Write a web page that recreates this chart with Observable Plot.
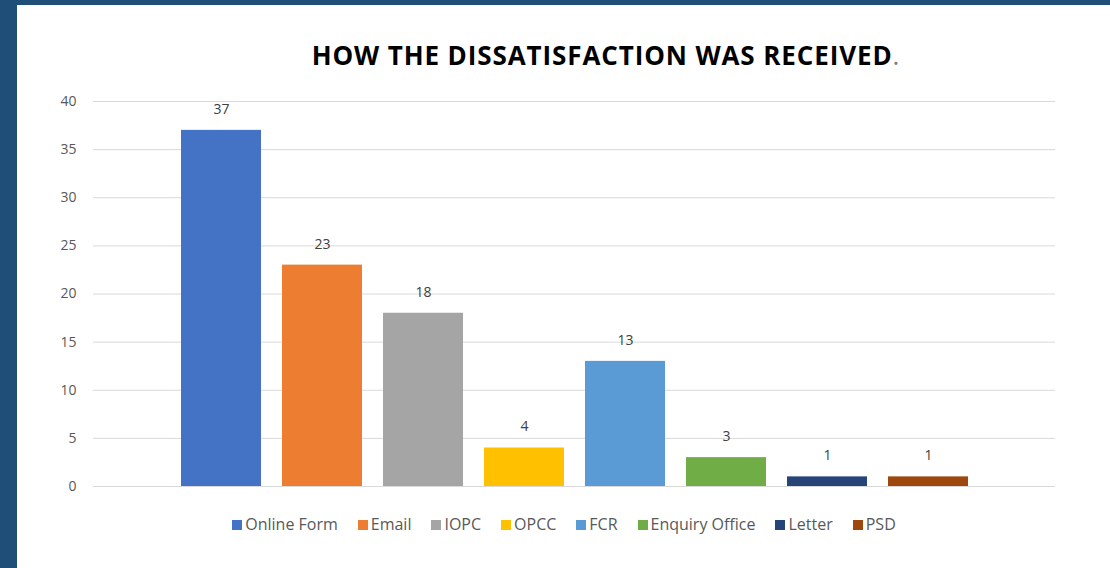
<!DOCTYPE html>
<html>
<head>
<meta charset="utf-8">
<script src="https://cdn.jsdelivr.net/npm/d3@7"></script>
<script src="https://cdn.jsdelivr.net/npm/@observablehq/plot@0.6"></script>
<style>
  html, body { margin: 0; padding: 0; }
  #page { position: relative; width: 1110px; height: 568px; background: #1F4E79; overflow: hidden; font-family: "Open Sans", sans-serif; }
  #panel { position: absolute; left: 17px; top: 5px; width: 1093px; height: 563px; background: #ffffff; }
  #chart { position: absolute; left: 0; top: 0; }
  #title { position: absolute; left: 0; width: 1110px; top: 37px; text-align: center; padding-left: 102px; box-sizing: border-box; font-weight: 700; font-size: 26px; color: #000; letter-spacing: 0.9px; }
  #title .dot { color: #7f7f7f; font-weight: 400; }
  #legend { position: absolute; left: 0; width: 1110px; top: 513px; text-align: center; padding-left: 18px; box-sizing: border-box; font-size: 16px; color: #595959; white-space: nowrap; }
  .item { display: inline-block; margin: 0 10px; }
  .sw { display: inline-block; width: 10px; height: 10px; margin-right: 3px; vertical-align: 0px; }
</style>
</head>
<body>
<div id="page">
  <div id="panel"></div>
  <div id="chart"></div>
  <div id="title">HOW THE DISSATISFACTION WAS RECEIVED<span class="dot">.</span></div>
  <div id="legend"></div>
</div>
<script>
const categories = ["Online Form", "Email", "IOPC", "OPCC", "FCR", "Enquiry Office", "Letter", "PSD"];
const values = [37, 23, 18, 4, 13, 3, 1, 1];
const colors = ["#4472C4", "#ED7D31", "#A5A5A5", "#FFC000", "#5B9BD5", "#70AD47", "#264478", "#9E480E"];
const yTicks = [0, 5, 10, 15, 20, 25, 30, 35, 40];

const data = categories.map((c, i) => ({category: c, value: values[i]}));

const chart = Plot.plot({
  width: 1110,
  height: 568,
  marginLeft: 93,
  marginRight: 55,
  marginTop: 101,
  marginBottom: 82,
  style: {background: "transparent", fontFamily: "'Open Sans', sans-serif", fontSize: "14px", color: "#595959"},
  x: {domain: categories, range: [169, 979], paddingInner: 0.21, paddingOuter: 0.105, axis: null},
  y: {domain: [0, 40], ticks: yTicks, tickSize: 0, tickPadding: 17, label: null},
  color: {domain: categories, range: colors},
  marks: [
    Plot.ruleY(yTicks, {stroke: "#D9D9D9", strokeWidth: 1}),
    Plot.barY(data, {x: "category", y: "value", fill: "category"}),
    Plot.text(data, {x: "category", y: "value", text: d => String(d.value), dy: -21, fill: "#404040", fontSize: 14})
  ]
});
document.getElementById("chart").appendChild(chart);

const legend = document.getElementById("legend");
categories.forEach((c, i) => {
  const item = document.createElement("span");
  item.className = "item";
  const sw = document.createElement("span");
  sw.className = "sw";
  sw.style.background = colors[i];
  item.appendChild(sw);
  item.appendChild(document.createTextNode(c));
  legend.appendChild(item);
});
</script>
</body>
</html>
